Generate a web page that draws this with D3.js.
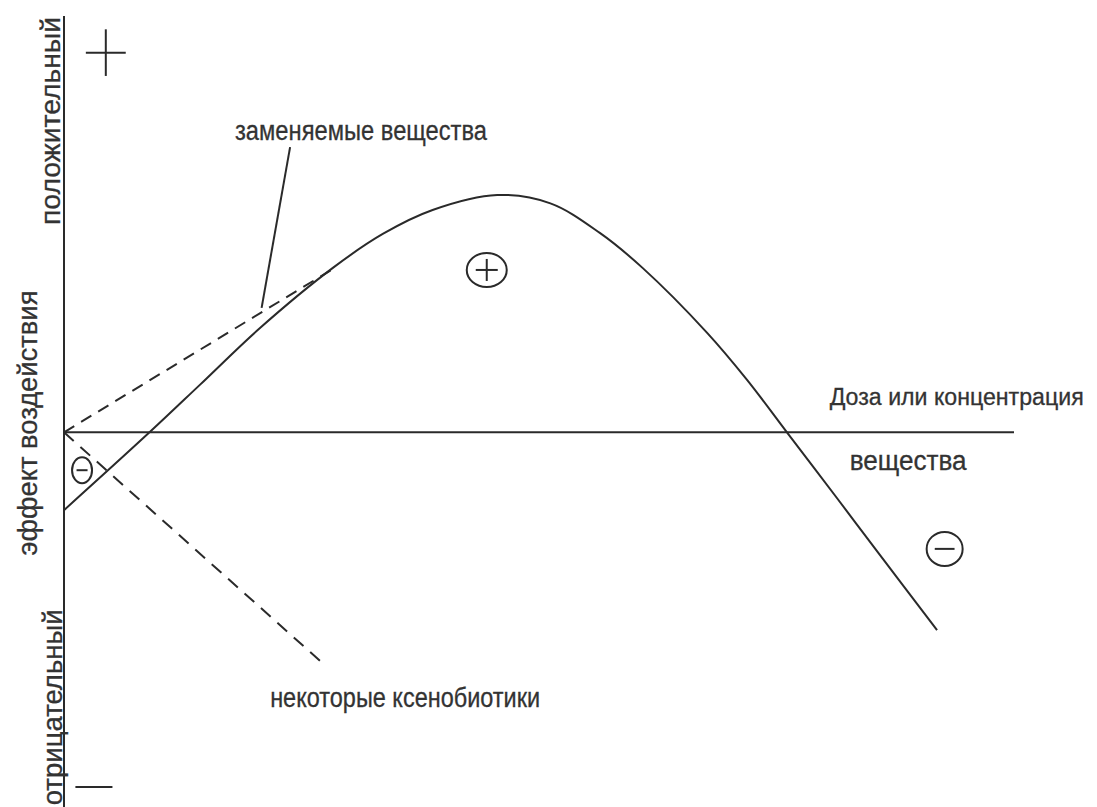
<!DOCTYPE html>
<html><head><meta charset="utf-8">
<script src="https://cdn.jsdelivr.net/npm/d3@7"></script>
<style>html,body{margin:0;padding:0;background:#fff;} svg{display:block;}</style>
</head><body>
<svg id="chart" width="1097" height="807"></svg>
<script>
// ---- data (schematic units: dose 0..100, effect -90..100) ----
const curveDose   = [0, 9.0, 14.3, 20.6, 28.3, 33.6, 38.8, 45.6, 51.2, 56.4, 60.9, 67.7, 71.9, 76.1, 81.4, 85.9, 91.9];
const curveEffect = [-18.7, 0, 11.4, 25.0, 39.5, 47.7, 53.4, 57.0, 55.0, 47.9, 39.5, 23.9, 12.6, 0, -15.9, -29.5, -47.5];
const replaceableDose   = [0, 28.5];
const replaceableEffect = [0, 39.5];
const xenoDose   = [0, 27.2];
const xenoEffect = [0, -55.4];
const leaderDose   = [20.8, 23.8];
const leaderEffect = [29.9, 68.5];
const signLabels = ["+", "-", "-"];
const signDose   = [44.5, 92.7, 1.9];
const signEffect = [39.0, -28.0, -9.1];
const textLabels = ["заменяемые вещества", "Доза или концентрация", "вещества", "некоторые ксенобиотики"];
const textDose   = [18.0, 80.6, 82.7, 21.7];
const textEffect = [70.2, 6.6, -9.1, -66.0];
const axisLabels = ["положительный", "эффект воздействия", "отрицательный"];
const axisLabelEffect = [49.8, -29.6, -89.6];
const domainX = [0, 100];
const domainY = [-90, 100];

// ---- drawing ----
const svg = d3.select("#chart");
const x = d3.scaleLinear().domain(domainX).range([64, 1014]);
const y = d3.scaleLinear().domain(domainY).range([807, 16]);
const ink = "#2a2a2a";
const txt = "#333";
const FONT = "'Liberation Sans', Arial, sans-serif";

// axes
svg.append("line").attr("x1", x(0)).attr("x2", x(0)).attr("y1", y(100)).attr("y2", y(-90))
  .attr("stroke", ink).attr("stroke-width", 2);
svg.append("line").attr("x1", x(0)).attr("x2", x(100)).attr("y1", y(0)).attr("y2", y(0))
  .attr("stroke", ink).attr("stroke-width", 2);

// + and - at the ends of the vertical axis
svg.append("line").attr("x1", x(2.3)).attr("x2", x(6.5)).attr("y1", y(91.2)).attr("y2", y(91.2))
  .attr("stroke", ink).attr("stroke-width", 2);
svg.append("line").attr("x1", x(4.4)).attr("x2", x(4.4)).attr("y1", y(96.8)).attr("y2", y(85.6))
  .attr("stroke", ink).attr("stroke-width", 2);
svg.append("line").attr("x1", x(1.2)).attr("x2", x(5.1)).attr("y1", y(-85.2)).attr("y2", y(-85.2))
  .attr("stroke", ink).attr("stroke-width", 2);

// main curve
const smooth = d3.line().x(d => x(d[0])).y(d => y(d[1])).curve(d3.curveCatmullRom.alpha(0.5));
svg.append("path")
  .datum(curveDose.map((d, i) => [d, curveEffect[i]]))
  .attr("d", smooth)
  .attr("fill", "none").attr("stroke", ink).attr("stroke-width", 2);

const straight = d3.line().x(d => x(d[0])).y(d => y(d[1]));
svg.append("path")
  .datum(replaceableDose.map((d, i) => [d, replaceableEffect[i]]))
  .attr("d", straight).attr("fill", "none").attr("stroke", ink)
  .attr("stroke-width", 2).attr("stroke-dasharray", "12,8");
svg.append("path")
  .datum(xenoDose.map((d, i) => [d, xenoEffect[i]]))
  .attr("d", straight).attr("fill", "none").attr("stroke", ink)
  .attr("stroke-width", 2).attr("stroke-dasharray", "13,9");
svg.append("path")
  .datum(leaderDose.map((d, i) => [d, leaderEffect[i]]))
  .attr("d", straight).attr("fill", "none").attr("stroke", ink).attr("stroke-width", 2);

// circled signs
const signSize = [[20, 17], [18, 17], [10, 13]];
signLabels.forEach((s, i) => {
  const cx = x(signDose[i]), cy = y(signEffect[i]);
  const [rx, ry] = signSize[i];
  const g = svg.append("g");
  g.append("ellipse").attr("cx", cx).attr("cy", cy).attr("rx", rx).attr("ry", ry)
    .attr("fill", "none").attr("stroke", ink).attr("stroke-width", 2);
  const h = rx * 0.55;
  g.append("line").attr("x1", cx - h).attr("x2", cx + h).attr("y1", cy).attr("y2", cy)
    .attr("stroke", ink).attr("stroke-width", 2);
  if (s === "+") {
    g.append("line").attr("x1", cx).attr("x2", cx).attr("y1", cy - h).attr("y2", cy + h)
      .attr("stroke", ink).attr("stroke-width", 2);
  }
});

// horizontal text labels
const textLens  = [252, 254, 117, 270];
const textSizes = [27, 23.5, 27, 27];
textLabels.forEach((t, i) => {
  svg.append("text").attr("x", x(textDose[i])).attr("y", y(textEffect[i]))
    .attr("font-family", FONT).attr("font-size", textSizes[i]).attr("fill", txt)
    .attr("stroke", txt).attr("stroke-width", 0.3)
    .attr("textLength", textLens[i]).attr("lengthAdjust", "spacingAndGlyphs")
    .text(t);
});

// rotated axis labels
const axisBase = [60, 37, 62];
const axisLens = [208, 265, 196];
axisLabels.forEach((t, i) => {
  const px = axisBase[i], py = y(axisLabelEffect[i]);
  svg.append("text").attr("transform", `translate(${px},${py}) rotate(-90)`)
    .attr("font-family", FONT).attr("font-size", 27).attr("fill", txt)
    .attr("stroke", txt).attr("stroke-width", 0.3)
    .attr("textLength", axisLens[i]).attr("lengthAdjust", "spacingAndGlyphs")
    .text(t);
});
</script>
</body></html>
